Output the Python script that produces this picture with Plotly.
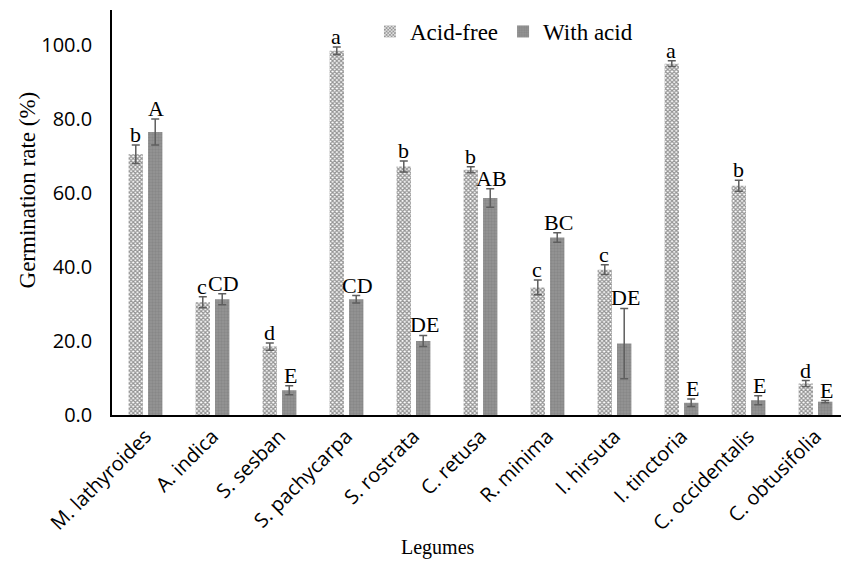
import plotly.graph_objects as go

categories = ["M. lathyroides", "A. indica", "S. sesban", "S. pachycarpa", "S. rostrata",
              "C. retusa", "R. minima", "I. hirsuta", "I. tinctoria", "C. occidentalis", "C. obtusifolia"]
acid_free = [70.5, 30.5, 18.5, 98.5, 67.2, 66.3, 34.5, 39.3, 95.0, 62.0, 8.5]
acid_free_err = [2.5, 1.5, 1.0, 1.0, 1.5, 0.8, 2.0, 1.3, 0.8, 1.5, 0.8]
with_acid = [76.5, 31.3, 6.7, 31.3, 20.0, 58.7, 48.0, 19.3, 3.3, 4.0, 3.6]
with_acid_err = [3.5, 1.5, 1.2, 1.0, 1.5, 2.5, 1.3, 9.5, 1.0, 1.2, 0.3]
letters_free = ["b", "c", "d", "a", "b", "b", "c", "c", "a", "b", "d"]
letters_acid = ["A", "CD", "E", "CD", "DE", "AB", "BC", "DE", "E", "E", "E"]

SERIF = "Liberation Serif"
SANS = "Open Sans"

fig = go.Figure()
fig.add_trace(go.Bar(
    name="Acid-free", x=categories, y=acid_free,
    marker=dict(color="white", line=dict(width=0),
                pattern=dict(shape="x", fgcolor="#2a2a2a", bgcolor="#ffffff", size=3, solidity=0.65)),
    error_y=dict(type="data", array=acid_free_err, color="#5e5e5e", thickness=1.5, width=4),
))
fig.add_trace(go.Bar(
    name="With acid", x=categories, y=with_acid,
    marker=dict(color="#8a8a8a", line=dict(width=0),
                pattern=dict(shape=".", fgcolor="#777777", bgcolor="#969696", size=3, solidity=0.5)),
    error_y=dict(type="data", array=with_acid_err, color="#5e5e5e", thickness=1.5, width=4),
))

annotations = []
for c, v, e, t in zip(categories, acid_free, acid_free_err, letters_free):
    annotations.append(dict(x=c, y=v + e, xref="x", yref="y", text=t, showarrow=False,
                            xshift=-10.5, yanchor="bottom", yshift=-4,
                            font=dict(family=SERIF, size=22, color="black")))
for c, v, e, t in zip(categories, with_acid, with_acid_err, letters_acid):
    annotations.append(dict(x=c, y=v + e, xref="x", yref="y", text=t, showarrow=False,
                            xshift=10.5, yanchor="bottom", yshift=-4,
                            font=dict(family=SERIF, size=22, color="black")))

# axis titles
annotations.append(dict(x=-0.115, y=0.555, xref="paper", yref="paper", text="Germination rate (%)",
                        textangle=-90, showarrow=False, xanchor="center", yanchor="middle",
                        font=dict(family=SERIF, size=23, color="black")))
annotations.append(dict(x=0.443, y=-0.328, xref="paper", yref="paper", text="Legumes",
                        showarrow=False, xanchor="center", yanchor="middle",
                        font=dict(family=SERIF, size=20, color="black")))

fig.update_layout(
    width=849, height=564,
    margin=dict(l=104, r=8, t=2, b=157),
    plot_bgcolor="white", paper_bgcolor="white",
    font=dict(family=SANS, color="black"),
    barmode="group", bargap=0.42, bargroupgap=0.26,
    annotations=annotations,
    legend=dict(orientation="h", x=0.35, y=1.0, xanchor="left", yanchor="top",
                font=dict(family=SERIF, size=23, color="black"), bgcolor="rgba(0,0,0,0)"),
    xaxis=dict(
        automargin=False,
        showline=True, linecolor="black", linewidth=1.5, ticks="",
        tickangle=-45, tickfont=dict(family=SANS, size=20, color="black"),
    ),
    yaxis=dict(
        automargin=False,
        range=[0, 109.5], tickvals=[0, 20, 40, 60, 80, 100], tickformat=".1f",
        showline=True, linecolor="black", linewidth=1.5, ticks="", showgrid=False, zeroline=False,
        ticklabelstandoff=14,
        tickfont=dict(family=SANS, size=20, color="black"),
    ),
)

fig.write_html("out.html")
